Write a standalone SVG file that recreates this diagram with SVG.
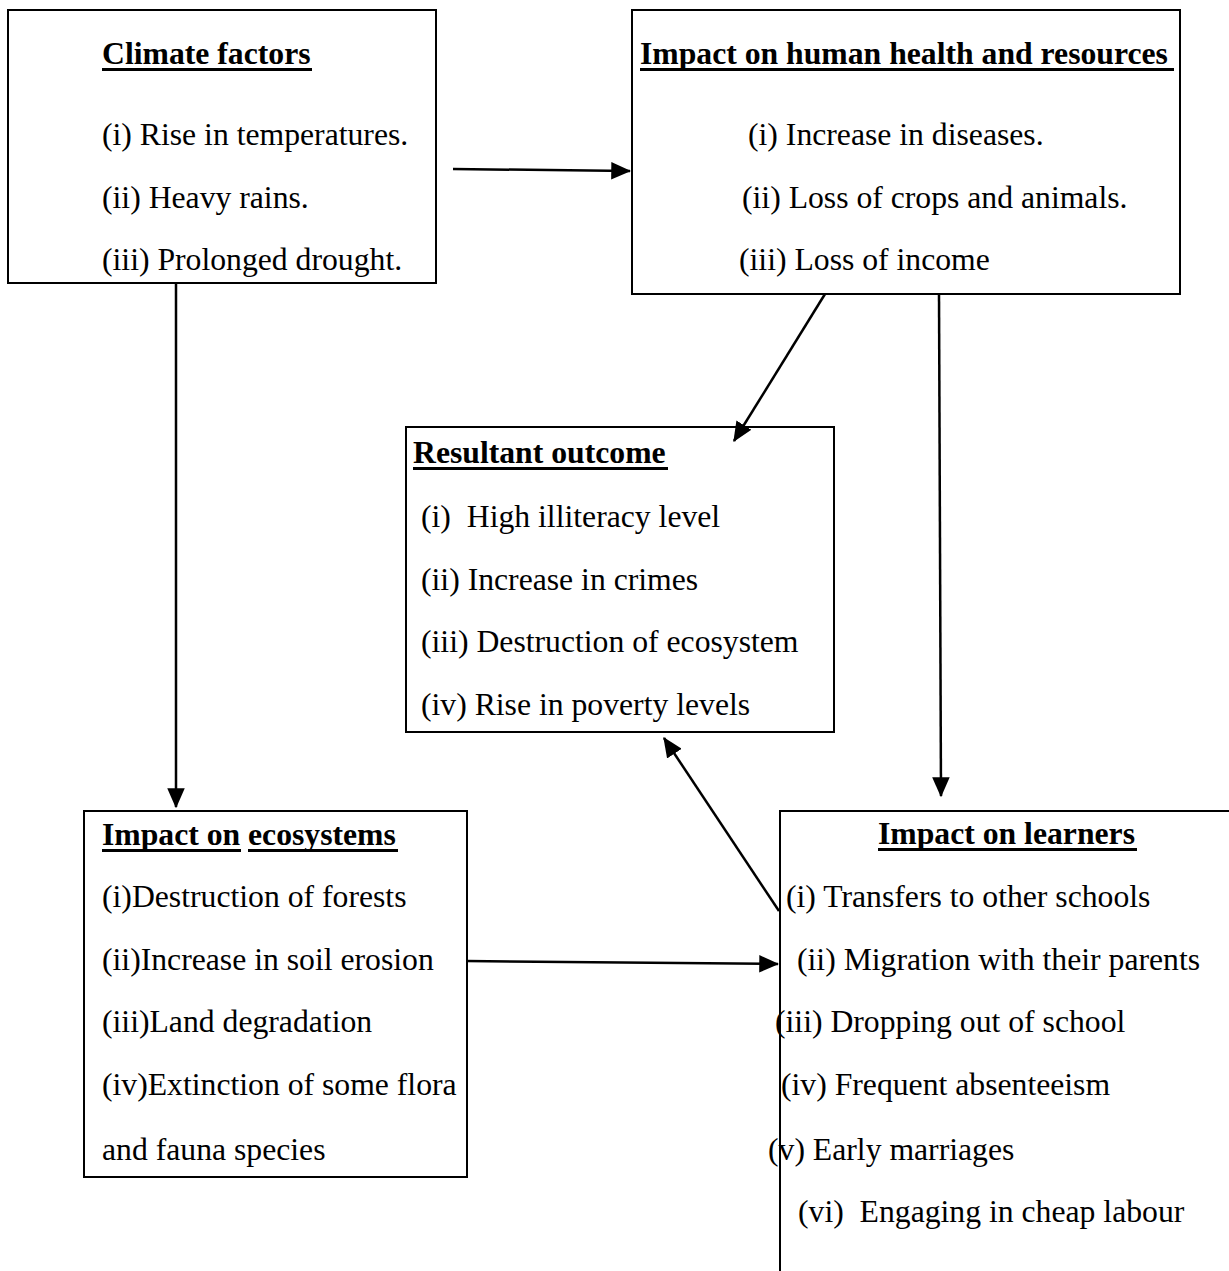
<svg xmlns="http://www.w3.org/2000/svg" width="1229" height="1271" viewBox="0 0 1229 1271">
<style>
  .box { fill: #fff; stroke: #000; stroke-width: 2; }
  .t { font-family: "Liberation Serif", "Times New Roman", serif; font-size: 31.7px; fill: #000; white-space: pre; }
  .h { font-family: "Liberation Serif", "Times New Roman", serif; font-size: 31.7px; font-weight: bold; fill: #000; white-space: pre; }
  .ul { stroke: #000; stroke-width: 3; }
  .conn { stroke: #000; stroke-width: 2.5; fill: none; marker-end: url(#arr); }
</style>
<defs>
  <marker id="arr" markerWidth="8" markerHeight="7" refX="7.5" refY="3.5" orient="auto" markerUnits="strokeWidth">
    <path d="M0,0 L8,3.5 L0,7 Z" fill="#000"/>
  </marker>
</defs>
<rect width="1229" height="1271" fill="#fff"/>

<g id="climate-factors">
  <rect class="box" x="8" y="10" width="428" height="273"/>
  <text class="h" x="102" y="64">Climate factors</text>
  <line class="ul" x1="102" y1="69.5" x2="312" y2="69.5"/>
  <text class="t" x="102" y="145">(i) Rise in temperatures.</text>
  <text class="t" x="102" y="208">(ii) Heavy rains.</text>
  <text class="t" x="102" y="270">(iii) Prolonged drought.</text>
</g>

<g id="impact-human-health">
  <rect class="box" x="632" y="10" width="548" height="284"/>
  <text class="h" x="640" y="64">Impact on human health and resources</text>
  <line class="ul" x1="640" y1="69.5" x2="1174" y2="69.5"/>
  <text class="t" x="748" y="145">(i) Increase in diseases.</text>
  <text class="t" x="742" y="208">(ii) Loss of crops and animals.</text>
  <text class="t" x="739" y="270">(iii) Loss of income</text>
</g>

<g id="resultant-outcome">
  <rect class="box" x="406" y="427" width="428" height="305"/>
  <text class="h" x="413" y="463">Resultant outcome</text>
  <line class="ul" x1="413" y1="468.5" x2="668" y2="468.5"/>
  <text class="t" x="421" y="527">(i)  High illiteracy level</text>
  <text class="t" x="421" y="590">(ii) Increase in crimes</text>
  <text class="t" x="421" y="652">(iii) Destruction of ecosystem</text>
  <text class="t" x="421" y="715">(iv) Rise in poverty levels</text>
</g>

<g id="impact-ecosystems">
  <rect class="box" x="84" y="811" width="383" height="366"/>
  <text class="h" x="102" y="845">Impact on <tspan x="248">ecosystems</tspan></text>
  <line class="ul" x1="102" y1="850.5" x2="241" y2="850.5"/>
  <line class="ul" x1="248" y1="850.5" x2="398" y2="850.5"/>
  <text class="t" x="102" y="907">(i)Destruction of forests</text>
  <text class="t" x="102" y="970">(ii)Increase in soil erosion</text>
  <text class="t" x="102" y="1032">(iii)Land degradation</text>
  <text class="t" x="102" y="1095">(iv)Extinction of some flora</text>
  <text class="t" x="102" y="1160">and fauna species</text>
</g>

<g id="impact-learners">
  <rect class="box" x="780" y="811" width="520" height="520"/>
  <text class="h" x="878" y="844">Impact on learners</text>
  <line class="ul" x1="878" y1="849.5" x2="1137" y2="849.5"/>
  <text class="t" x="786" y="907">(i) Transfers to other schools</text>
  <text class="t" x="797" y="970">(ii) Migration with their parents</text>
  <text class="t" x="775" y="1032">(iii) Dropping out of school</text>
  <text class="t" x="781" y="1095">(iv) Frequent absenteeism</text>
  <text class="t" x="768" y="1160">(v) Early marriages</text>
  <text class="t" x="798" y="1222">(vi)  Engaging in cheap labour</text>
</g>

<g id="connectors">
  <line class="conn" x1="453" y1="169" x2="630" y2="171"/>
  <line class="conn" x1="176" y1="283" x2="176" y2="807"/>
  <line class="conn" x1="825" y1="294" x2="734" y2="441"/>
  <line class="conn" x1="939" y1="294" x2="941" y2="796"/>
  <line class="conn" x1="779" y1="911" x2="664" y2="738"/>
  <line class="conn" x1="467" y1="961" x2="778" y2="964"/>
</g>
</svg>
